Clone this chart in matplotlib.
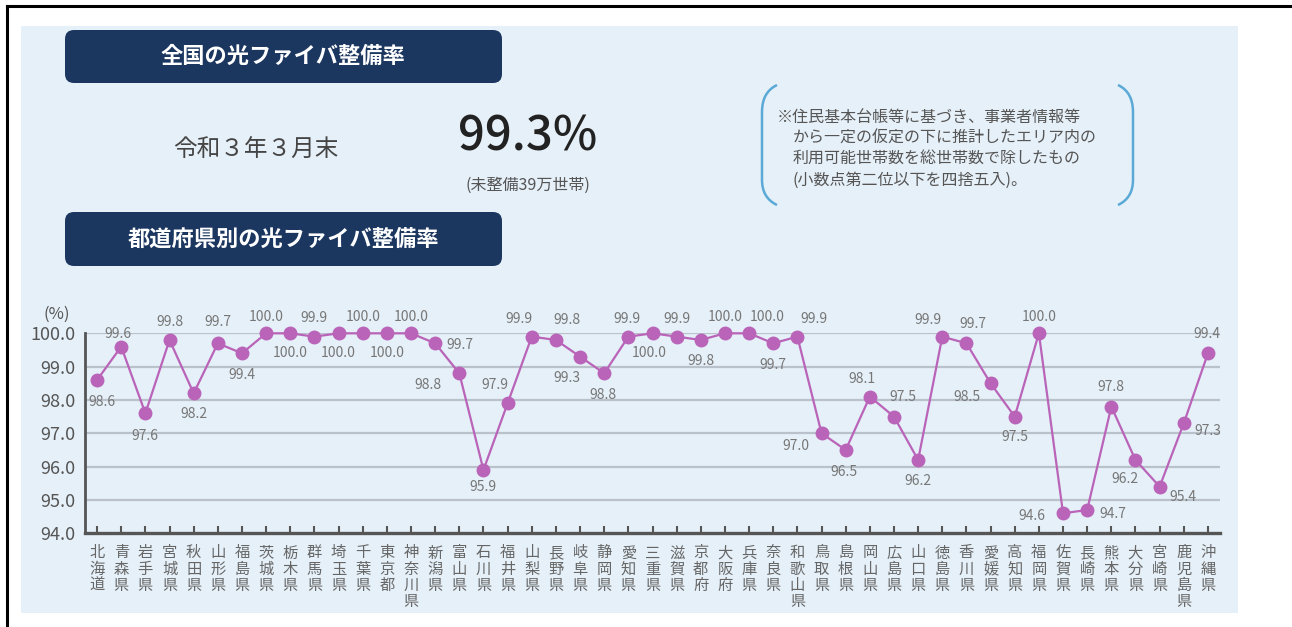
import matplotlib
matplotlib.use("Agg")
import matplotlib.pyplot as plt
from matplotlib.patches import FancyBboxPatch, Rectangle, PathPatch
from matplotlib.path import Path
from matplotlib.lines import Line2D
from matplotlib.transforms import IdentityTransform

plt.rcParams['font.family'] = ['Noto Sans CJK JP', 'DejaVu Sans']

# data
prefectures = ["北海道", "青森県", "岩手県", "宮城県", "秋田県", "山形県", "福島県",
               "茨城県", "栃木県", "群馬県", "埼玉県", "千葉県", "東京都", "神奈川県",
               "新潟県", "富山県", "石川県", "福井県", "山梨県", "長野県", "岐阜県",
               "静岡県", "愛知県", "三重県", "滋賀県", "京都府", "大阪府", "兵庫県",
               "奈良県", "和歌山県", "鳥取県", "島根県", "岡山県", "広島県", "山口県",
               "徳島県", "香川県", "愛媛県", "高知県", "福岡県", "佐賀県", "長崎県",
               "熊本県", "大分県", "宮崎県", "鹿児島県", "沖縄県"]
rates = [98.6, 99.6, 97.6, 99.8, 98.2, 99.7, 99.4,
         100.0, 100.0, 99.9, 100.0, 100.0, 100.0, 100.0,
         99.7, 98.8, 95.9, 97.9, 99.9, 99.8, 99.3,
         98.8, 99.9, 100.0, 99.9, 99.8, 100.0, 100.0,
         99.7, 99.9, 97.0, 96.5, 98.1, 97.5, 96.2,
         99.9, 99.7, 98.5, 97.5, 100.0, 94.6, 94.7,
         97.8, 96.2, 95.4, 97.3, 99.4]
yticks = [94.0, 95.0, 96.0, 97.0, 98.0, 99.0, 100.0]

national_rate = "99.3%"
national_date = "令和３年３月末"
national_note = "(未整備39万世帯)"
note_lines = ["※住民基本台帳等に基づき、事業者情報等",
              "から一定の仮定の下に推計したエリア内の",
              "利用可能世帯数を総世帯数で除したもの",
              "(小数点第二位以下を四捨五入)。"]

# label offsets in pixels (dx, dy) for each point
label_offsets = [(5, -22), (-3, 13), (0, -23), (0, 18), (0, -21), (0, 21), (0, -22),
                 (0, 16), (0, -20), (0, 19), (0, -20), (0, 16), (0, -20), (0, 16),
                 (25, -2), (-31, -12), (-1, -17), (-13, 18), (-13, 18), (11, 20), (-13, -21),
                 (-1, -22), (-1, 18), (-3, -20), (0, 18), (0, -21), (0, 16), (18, 16),
                 (0, -22), (17, 18), (-26, -13), (-2, -22), (-8, 18), (9, 20), (0, -21),
                 (-14, 17), (6, 19), (-24, -14), (0, -20), (0, 16), (-31, -3), (26, -4),
                 (0, 20), (-11, -19), (23, -10), (24, -8), (-1, 19)]

W, H = 1292, 627
fig = plt.figure(figsize=(W / 100, H / 100), dpi=100)
ident = IdentityTransform()


def px(x, y):
    return (x, H - y)


# outer lines and panel
fig.add_artist(Line2D([7, W], [H - 6, H - 6], transform=ident, color='black', lw=2.2))
fig.add_artist(Line2D([7, 7], [0, H - 6], transform=ident, color='black', lw=2.2))
fig.add_artist(Rectangle(px(21, 613), 1238 - 21, 613 - 26, transform=ident,
                         facecolor='#e6f0f8', edgecolor='none', zorder=0))

# header boxes
navy = '#1b365f'
for y0, y1, title in [(30, 83, "全国の光ファイバ整備率"), (212, 266, "都道府県別の光ファイバ整備率")]:
    fig.add_artist(FancyBboxPatch(px(65, y1), 502 - 65, y1 - y0, transform=ident,
                                  boxstyle="round,pad=0,rounding_size=9",
                                  facecolor=navy, edgecolor='none'))
    fig.text(283 / W, 1 - (y0 + y1) / 2 / H, title, color='white', fontsize=16,
             fontweight='bold', ha='center', va='center')

fig.text(256 / W, 1 - 150 / H, national_date, fontsize=17, color='#444444',
         ha='center', va='center')
fig.text(528 / W, 1 - 137 / H, national_rate, fontsize=34, color='#222222',
         fontweight='medium', ha='center', va='center')
fig.text(528 / W, 1 - 185 / H, national_note, fontsize=11.5, color='#555555',
         ha='center', va='center')

# note with brackets
blue = '#5aa9d6'
lb = Path([px(777, 85), px(762, 92), px(762, 112), px(762, 180), px(762, 198), px(777, 205)],
          [Path.MOVETO, Path.CURVE3, Path.CURVE3, Path.LINETO, Path.CURVE3, Path.CURVE3])
rb = Path([px(1118, 85), px(1133, 92), px(1133, 112), px(1133, 180), px(1133, 198), px(1118, 205)],
          [Path.MOVETO, Path.CURVE3, Path.CURVE3, Path.LINETO, Path.CURVE3, Path.CURVE3])
for p in (lb, rb):
    fig.add_artist(PathPatch(p, transform=ident, facecolor='none', edgecolor=blue, lw=1.8))
for i, (line, y) in enumerate(zip(note_lines, [117, 138, 158, 180])):
    x = 777 if i == 0 else 793
    fig.text(x / W, 1 - y / H, line, fontsize=11.5, color='#555555', ha='left', va='center')

# chart
ax = fig.add_axes([85 / W, 1 - 533.3 / H, (1220 - 85) / W, 200 / H])
ax.patch.set_alpha(0)
xs = list(range(len(prefectures)))
ax.set_xlim(-0.5, len(prefectures) - 0.5)
ax.set_ylim(94, 100)
ax.set_yticks(yticks)
ax.set_yticklabels([f"{t:.1f}" for t in yticks], fontsize=13, color='#555555')
for t in yticks[1:]:
    ax.axhline(t, color='#b9c2ca', lw=1.6, zorder=1)

purple = '#b964b9'
ax.plot(xs, rates, color=purple, lw=1.6, marker='o', markersize=9,
        markerfacecolor=purple, markeredgecolor=purple, clip_on=False, zorder=3)
for x, v, (dx, dy) in zip(xs, rates, label_offsets):
    ax.annotate(f"{v:.1f}", (x, v), xytext=(dx, dy), textcoords='offset pixels',
                ha='center', va='center', fontsize=10, color='#777777', zorder=4)

ax.set_xticks(xs)
ax.set_xticklabels(["\n".join(n) for n in prefectures], fontsize=11, color='#666666',
                   linespacing=0.95, va='top')
ax.tick_params(axis='x', direction='in', length=5, width=1.5, color='#555555', pad=8)
ax.tick_params(axis='y', length=0, pad=7)
for s in ['top', 'right']:
    ax.spines[s].set_visible(False)
ax.spines['left'].set_color('#555555')
ax.spines['left'].set_linewidth(2)
ax.spines['bottom'].set_color('#555555')
ax.spines['bottom'].set_linewidth(2.4)

fig.text(57 / W, 1 - 314 / H, "(%)", fontsize=12, color='#555555', ha='center', va='center')

fig.savefig("out.png", dpi=100, facecolor='white')
